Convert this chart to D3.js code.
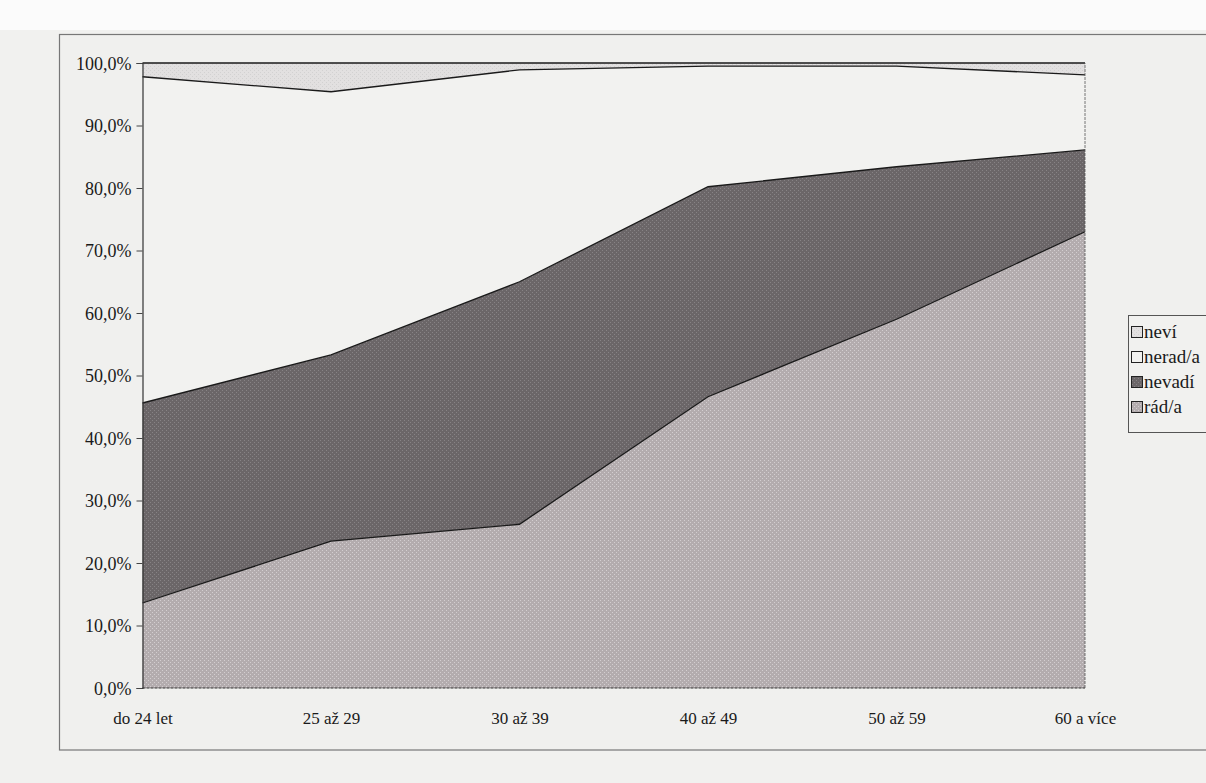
<!DOCTYPE html>
<html><head><meta charset="utf-8">
<script src="https://cdn.jsdelivr.net/npm/d3@7/dist/d3.min.js"></script>
<style>
html,body{margin:0;padding:0;background:#f1f1ef;}
svg{display:block;}
text{font-family:"Liberation Serif","Times New Roman",serif;fill:#1a1a1a;}
</style></head>
<body><svg id="c" width="1206" height="783"></svg>
<script>
const categories = ["do 24 let","25 až 29","30 až 39","40 až 49","50 až 59","60 a více"];
const seriesNames = ["rád/a","nevadí","nerad/a","neví"];
const radA   = [13.6, 23.5, 26.2, 46.6, 59.0, 73.0];
const nevadi = [32.0, 29.8, 38.8, 33.6, 24.4, 13.1];
const neradA = [52.2, 42.1, 33.9, 19.3, 16.1, 12.0];
const nevi   = [2.2, 4.6, 1.1, 0.5, 0.5, 1.9];
const yTicks = [0,10,20,30,40,50,60,70,80,90,100];
const legendOrder = ["neví","nerad/a","nevadí","rád/a"];

const colors = {"rád/a":"#b3acae","nevadí":"#6b6668","nerad/a":"#f2f2f0","neví":"#e2e0e0"};

const svg = d3.select("#c");
svg.append("rect").attr("x",0).attr("y",0).attr("width",1206).attr("height",30).attr("fill","#fbfbfb");
svg.append("rect").attr("x",59.5).attr("y",34.5).attr("width",1160).attr("height",715.5)
  .attr("fill","#f0f0ee").attr("stroke","#777").attr("stroke-width",1.2);

const L=142.5, R=1085, T=63, B=688;
const x = d3.scalePoint().domain(categories).range([L,R]);
const y = d3.scaleLinear().domain([0,100]).range([B,T]);

const data = categories.map((c,i)=>({cat:c,"rád/a":radA[i],"nevadí":nevadi[i],"nerad/a":neradA[i],"neví":nevi[i]}));
const stacked = d3.stack().keys(seriesNames)(data);

const defs = svg.append("defs");
function pat(id, bg, dot, op){
  const p = defs.append("pattern").attr("id",id).attr("width",4).attr("height",4).attr("patternUnits","userSpaceOnUse");
  p.append("rect").attr("width",4).attr("height",4).attr("fill",bg);
  p.append("rect").attr("x",0).attr("y",0).attr("width",1).attr("height",1).attr("fill",dot).attr("opacity",op);
  p.append("rect").attr("x",2).attr("y",2).attr("width",1).attr("height",1).attr("fill",dot).attr("opacity",op);
  return "url(#"+id+")";
}
const fills = {
  "rád/a": pat("p1", colors["rád/a"], "#e8e4e6", 0.6),
  "nevadí": pat("p2", colors["nevadí"], "#9a9698", 0.6),
  "nerad/a": colors["nerad/a"],
  "neví": pat("p4", colors["neví"], "#c8c6c6", 0.6)
};

const area = d3.area().x(d=>x(d.data.cat)).y0(d=>y(d[0])).y1(d=>y(d[1]));
const line = d3.line().x(d=>x(d.data.cat)).y(d=>y(d[1]));

svg.append("g").selectAll("path").data(stacked).join("path")
  .attr("d",area).attr("fill",d=>fills[d.key]);
svg.append("g").selectAll("path").data(stacked).join("path")
  .attr("d",line).attr("fill","none").attr("stroke","#1a1a1a").attr("stroke-width",1.3);

svg.append("line").attr("x1",L).attr("x2",R).attr("y1",B).attr("y2",B)
  .attr("stroke","#333").attr("stroke-width",1).attr("stroke-dasharray","3,1");
svg.append("line").attr("x1",R).attr("x2",R).attr("y1",y(0)).attr("y2",y(100))
  .attr("stroke","#555").attr("stroke-width",0.8).attr("stroke-dasharray","3,1");

const yAxis = d3.axisLeft(y).tickValues(yTicks).tickSize(6).tickPadding(5)
  .tickFormat(d=>d.toFixed(1).replace(".",",")+"%");
const gy = svg.append("g").attr("transform",`translate(${L},0)`).call(yAxis);
gy.select(".domain").attr("stroke","#333").attr("stroke-width",1.2);
gy.selectAll(".tick line").attr("stroke","#444");
gy.selectAll("text").style("font-size","18px").attr("fill","#1a1a1a").attr("dy","0.35em");

const xAxis = d3.axisBottom(x).tickSize(0).tickPadding(24);
const gx = svg.append("g").attr("transform",`translate(0,${B})`).call(xAxis);
gx.select(".domain").remove();
gx.selectAll("text").style("font-size","17px").attr("fill","#1a1a1a");

const lg = svg.append("g");
lg.append("rect").attr("x",1128.5).attr("y",315.5).attr("width",90).attr("height",117)
  .attr("fill","#f1f1ef").attr("stroke","#555").attr("stroke-width",1);
legendOrder.forEach((k,i)=>{
  const yy = 333 + i*25;
  lg.append("rect").attr("x",1131.5).attr("y",yy-6.5).attr("width",11).attr("height",11)
    .attr("fill",fills[k]).attr("stroke","#222").attr("stroke-width",1);
  lg.append("text").attr("x",1144).attr("y",yy+5).style("font-size","19px").text(k);
});
</script></body></html>
